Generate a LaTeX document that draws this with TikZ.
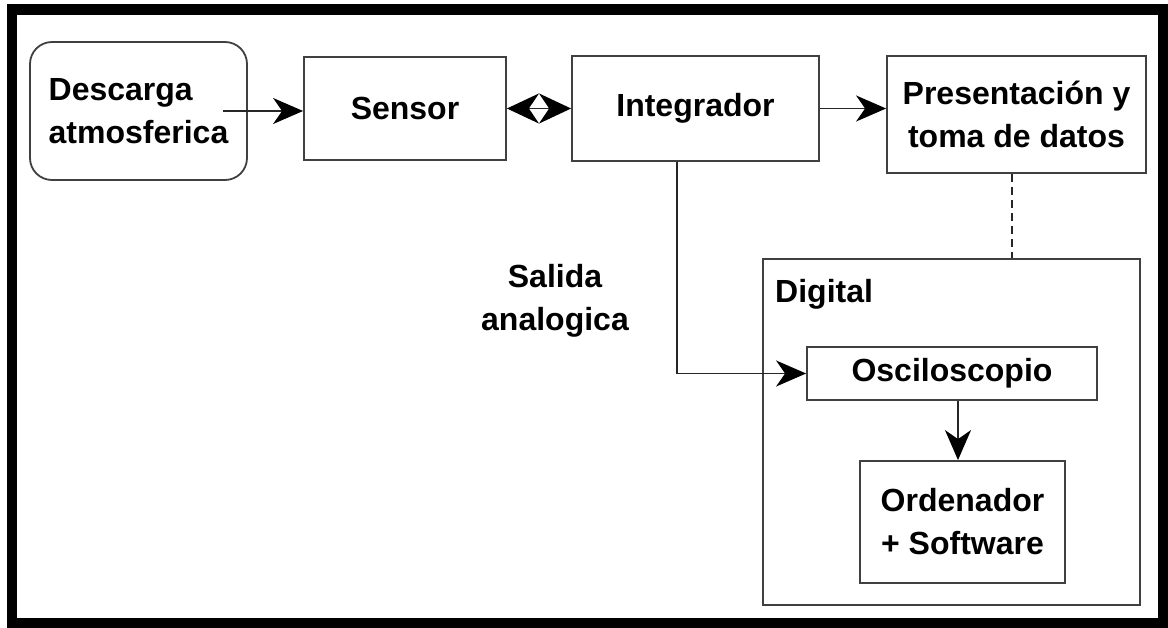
\documentclass[tikz,border=0pt]{standalone}
\usepackage{fontspec}
\setmainfont{Liberation Sans}
\usetikzlibrary{arrows.meta,calc}
\begin{document}
\begin{tikzpicture}[x=1pt,y=-1pt,
  every node/.style={font=\bfseries\fontsize{32}{43}\selectfont, text=black},
  blk/.style={draw=black!75, line width=1.8pt, inner sep=0pt, align=center},
  arr/.style={draw=black!85, line width=1.6pt, -{Stealth[length=30pt,width=26pt,inset=9pt,black]}},
  dbl/.style={draw=black!85, line width=1.6pt, {Stealth[length=32pt,width=30pt,inset=10pt,black]}-{Stealth[length=32pt,width=30pt,inset=10pt,black]}},
  lnk/.style={draw=black!85, line width=1.6pt}]
\useasboundingbox (0,0) rectangle (1168,628);
\fill[white] (0,0) rectangle (1168,628);
\draw[line width=10.5pt] (12,9.5) rectangle (1163.5,623.5);

\node[blk, rounded corners=22pt, minimum width=217pt, minimum height=138pt, align=left] (desc) at (138.5,111) {Descarga\\atmosferica};
\node[blk, minimum width=202pt, minimum height=103pt] (sensor) at (405,108.5) {Sensor};
\node[blk, minimum width=247pt, minimum height=105pt] (integ) at (695.5,108.5) {Integrador};
\node[blk, minimum width=259pt, minimum height=117pt] (pres) at (1016.5,114.5) {Presentación y\\toma de datos};
\node[blk, minimum width=377pt, minimum height=346pt] (digital) at (951.5,432) {};
\node[anchor=base west, inner sep=0pt] (diglab) at (775,303) {Digital};
\node[blk, minimum width=290pt, minimum height=53pt] (osc) at (952,373.5) {Osciloscopio};
\node[blk, minimum width=205pt, minimum height=122pt] (ord) at (962.5,522) {Ordenador\\+ Software};
\node[align=center, inner sep=0pt] (salida) at (555,301) {Salida\\analogica};

\draw[arr] ([xshift=-25pt]desc.east) -- (desc.east -| sensor.west);
\draw[dbl] (sensor.east) -- (integ.west);
\draw[arr] (integ.east) -- (integ.east -| pres.west);
\draw[arr] ([xshift=-18.5pt]integ.south) |- (osc.west);
\draw[lnk, dash pattern=on 8pt off 5pt] ([xshift=-4.5pt]pres.south) -- ([xshift=-4.5pt]pres.south |- digital.north);
\draw[arr] ([xshift=6pt]osc.south) -- ([xshift=6pt]osc.south |- ord.north);
\end{tikzpicture}
\end{document}
